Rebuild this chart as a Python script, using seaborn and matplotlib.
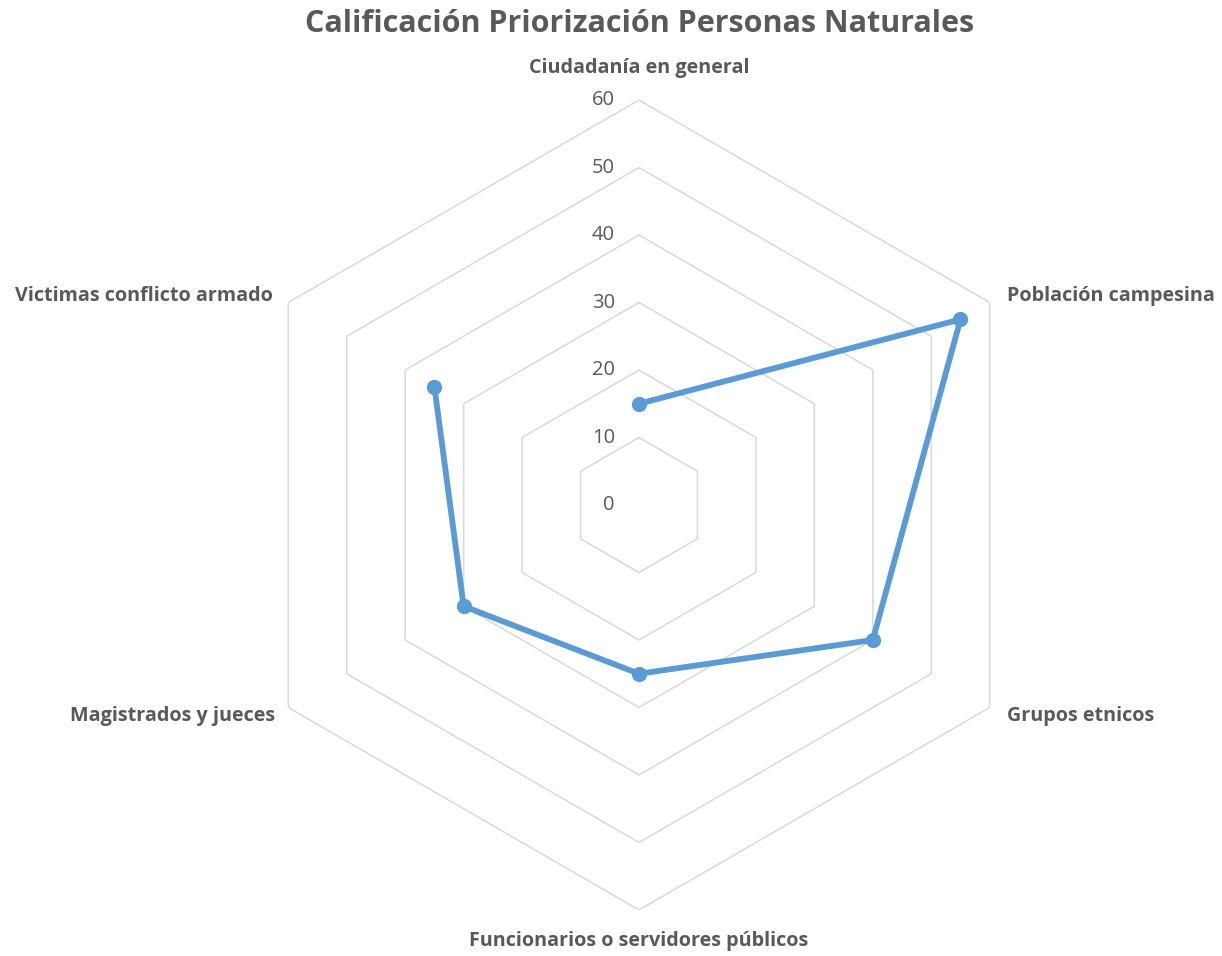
import numpy as np
import pandas as pd
import matplotlib
matplotlib.use("Agg")
import matplotlib.pyplot as plt
import seaborn as sns

# ===========================
# data
# ===========================
categories = [
    "Ciudadanía en general",
    "Población campesina",
    "Grupos etnicos",
    "Funcionarios o servidores públicos",
    "Magistrados y jueces",
    "Victimas conflicto armado",
]
scores = [15, 55, 40, 25, 30, 35]
ring_levels = [0, 10, 20, 30, 40, 50, 60]

sns.set_style("white")
plt.rcParams["font.family"] = ["Open Sans", "DejaVu Sans"]

grey_txt = "#595959"
grid_col = "#D9D9D9"
line_col = "#5B9BD5"

n = len(categories)
angles = np.arange(n) * 2 * np.pi / n
df = pd.DataFrame({"angle": np.append(angles, angles[0]),
                   "score": scores + scores[:1]})

fig = plt.figure(figsize=(12.22, 9.56), dpi=100)
ax = fig.add_axes([0.1915, 0.0481, 0.6628, 0.8473], projection="polar")
ax.set_theta_zero_location("N")
ax.set_theta_direction(-1)
ax.set_ylim(0, 60)
ax.grid(False)
ax.spines["polar"].set_visible(False)
ax.set_xticks([])
ax.set_yticks([])

# hexagonal rings (no spokes)
ring_ang = np.append(angles, angles[0])
for lvl in ring_levels[1:]:
    ax.plot(ring_ang, [lvl] * len(ring_ang), color=grid_col, lw=1.1, zorder=1)

# radial value labels
for lvl in ring_levels:
    ax.annotate(str(lvl), xy=(0, lvl), xytext=(-24, 0), textcoords="offset pixels",
                ha="right", va="center", fontsize=14.5, color=grey_txt)

# data series
sns.lineplot(data=df, x="angle", y="score", sort=False, ax=ax, color=line_col,
             lw=4.2, marker="o", markersize=11, markeredgewidth=0, zorder=3)
ax.set_xlabel("")
ax.set_ylabel("")

# category labels
offsets = [(0, 32, "center"), (17, 7, "left"), (17, -9, "left"),
           (0, -31, "center"), (-13, -9, "right"), (-15, 7, "right")]
for a, lab, (dx, dy, ha) in zip(angles, categories, offsets):
    ax.annotate(lab, xy=(a, 60), xytext=(dx, dy), textcoords="offset pixels",
                ha=ha, va="center", fontsize=14.2, fontweight="bold", color=grey_txt,
                annotation_clip=False)

fig.text(0.523, 1 - 24 / 956, "Calificación Priorización Personas Naturales",
         ha="center", va="center", fontsize=22, fontweight="bold", color=grey_txt)

fig.savefig("out.png", dpi=100, facecolor="white")
